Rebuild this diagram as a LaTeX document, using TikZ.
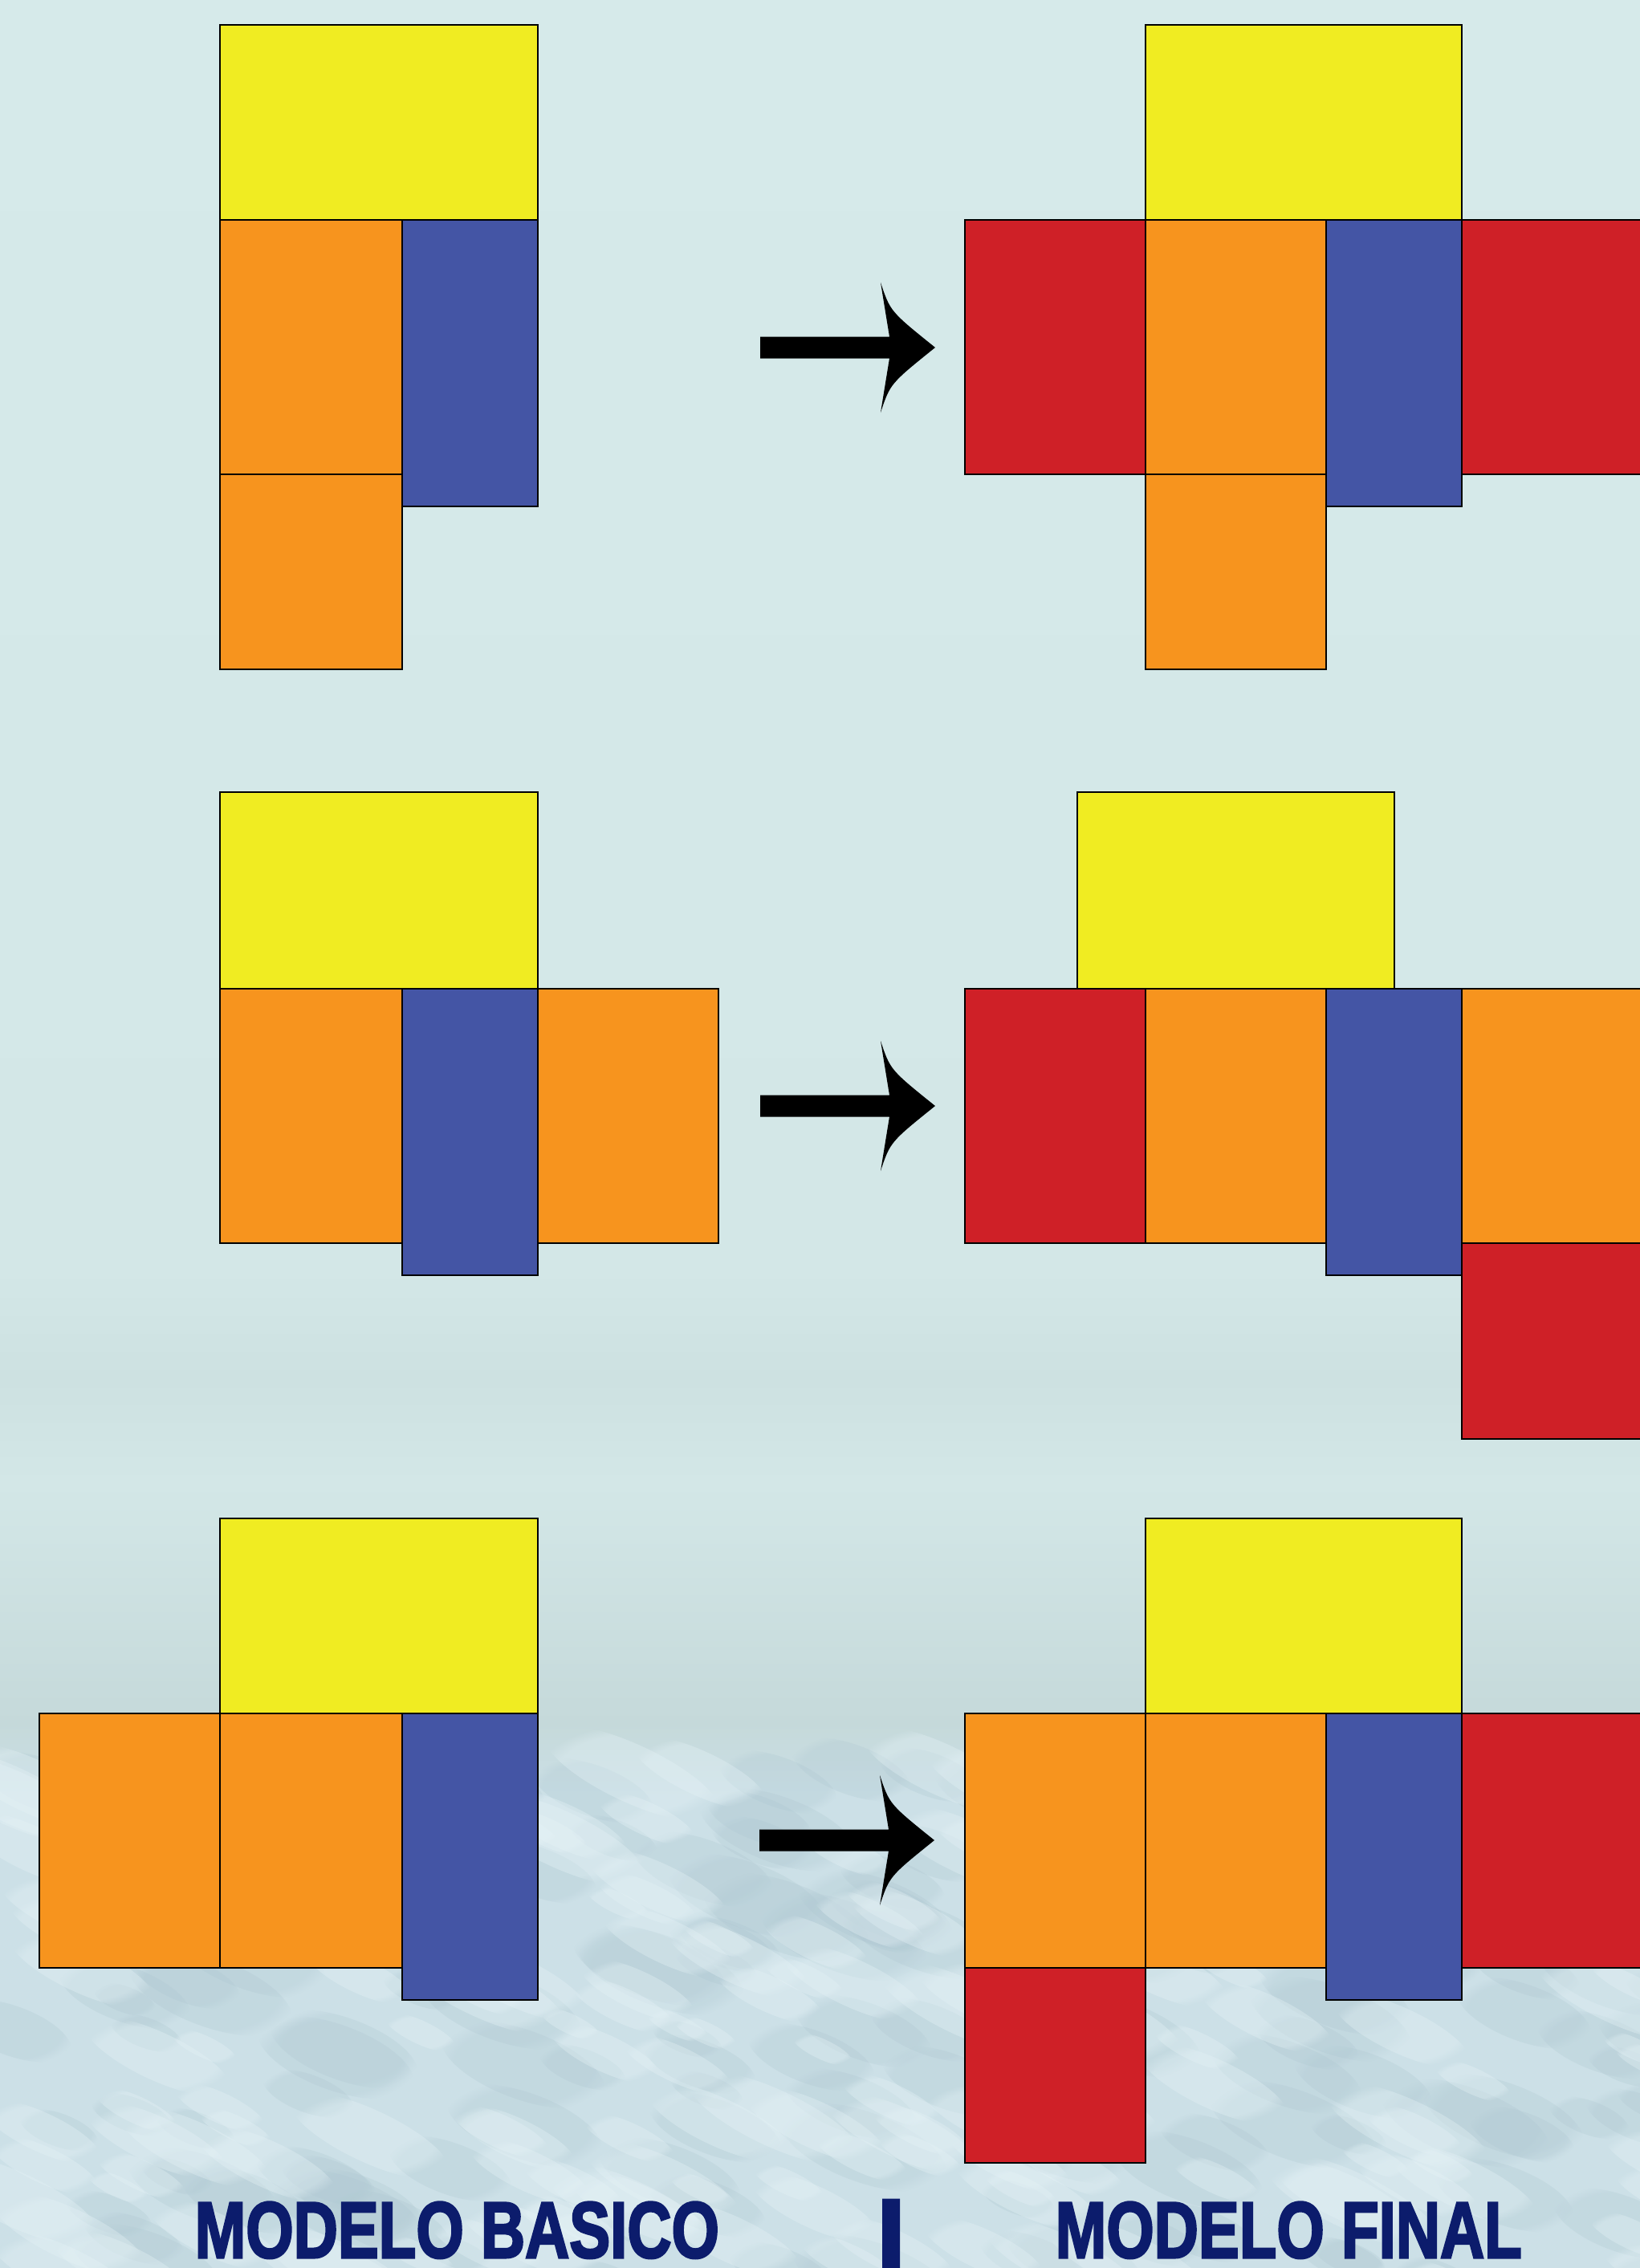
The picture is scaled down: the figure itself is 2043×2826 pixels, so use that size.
\documentclass[tikz,border=0pt]{standalone}
\usepackage{fontspec}
\setmainfont{Liberation Sans}
\newfontfamily\titlefont{Liberation Sans}[BoldFeatures={FakeBold=3}]
\usetikzlibrary{fadings}

\definecolor{tileyellow}{RGB}{240,236,34}
\definecolor{tileorange}{RGB}{247,148,30}
\definecolor{tileblue}{RGB}{68,85,165}
\definecolor{tilered}{RGB}{207,32,39}
\definecolor{titlenavy}{RGB}{12,28,108}
\definecolor{sky}{RGB}{214,234,234}
\definecolor{skylow}{RGB}{211,231,231}
\definecolor{haze}{RGB}{205,225,225}
\definecolor{mist}{RGB}{197,217,218}
\definecolor{sea}{RGB}{204,224,231}
\definecolor{seafoam}{RGB}{230,243,247}
\definecolor{seadark}{RGB}{174,199,209}

\pgfdeclareverticalshading{seaback}{100bp}{color(0bp)=(sea); color(25bp)=(sea);
  color(35.4bp)=(sea); color(37bp)=(mist); color(42.3bp)=(skylow);
  color(44.6bp)=(haze); color(47bp)=(skylow); color(75bp)=(sky); color(100bp)=(sky)}

\tikzset{
  tile/.style={draw=black, line width=0.7pt},
  title/.style={text=titlenavy, inner sep=0pt, font=\titlefont\fontsize{28.2}{30}\selectfont\bfseries},
  blob/.style={path fading=circle with fuzzy edge 20 percent},
  bigarrow/.pic={
    \fill[black] (0,0) .. controls (-56,-45) .. (-68,-81) -- (-57,-13.5)
      -- (-218,-13.5) -- (-218,13.5) -- (-57,13.5) -- (-68,81)
      .. controls (-56,45) .. (0,0) -- cycle;
  }
}

\begin{document}
\begin{tikzpicture}[x=0.01cm, y=-0.01cm]
  \useasboundingbox (0,0) rectangle (2043,2826);
  \clip (0,0) rectangle (2043,2826);
  \shade[shading=seaback] (0,0) rectangle (2043,2826);

  % sea texture
  \pgfmathsetseed{42}
  \foreach \k in {1,...,150}{
    \pgfmathsetmacro\fx{rnd*2100}
    \pgfmathsetmacro\fy{2200+rnd*650}
    \pgfmathsetmacro\fr{40+rnd*70}
    \fill[seadark, opacity=0.28, blob, rotate around={-20:(\fx,\fy)}] (\fx,\fy) ellipse ({\fr} and {\fr*0.4});
  }
  \foreach \k in {1,...,170}{
    \pgfmathsetmacro\fx{rnd*2100}
    \pgfmathsetmacro\fy{2200+rnd*650}
    \pgfmathsetmacro\fr{40+rnd*80}
    \fill[seafoam, opacity=0.35, blob, rotate around={-25:(\fx,\fy)}] (\fx,\fy) ellipse ({\fr} and {\fr*0.3});
  }

  % row 1
  \filldraw[tile, fill=tileyellow] (274,31) rectangle (670,274);
  \filldraw[tile, fill=tileorange] (274,274) rectangle (501,591);
  \filldraw[tile, fill=tileblue] (501,274) rectangle (670,631);
  \filldraw[tile, fill=tileorange] (274,591) rectangle (501,834);

  \filldraw[tile, fill=tileyellow] (1427,31) rectangle (1821,274);
  \filldraw[tile, fill=tilered] (1202,274) rectangle (1427,591);
  \filldraw[tile, fill=tileorange] (1427,274) rectangle (1652,591);
  \filldraw[tile, fill=tileblue] (1652,274) rectangle (1821,631);
  \filldraw[tile, fill=tilered] (1821,274) rectangle (2047,591);
  \filldraw[tile, fill=tileorange] (1427,591) rectangle (1652,834);

  % row 2
  \filldraw[tile, fill=tileyellow] (274,987) rectangle (670,1232);
  \filldraw[tile, fill=tileorange] (274,1232) rectangle (501,1549);
  \filldraw[tile, fill=tileblue] (501,1232) rectangle (670,1589);
  \filldraw[tile, fill=tileorange] (670,1232) rectangle (895,1549);

  \filldraw[tile, fill=tileyellow] (1342,987) rectangle (1737,1232);
  \filldraw[tile, fill=tilered] (1202,1232) rectangle (1427,1549);
  \filldraw[tile, fill=tileorange] (1427,1232) rectangle (1652,1549);
  \filldraw[tile, fill=tileblue] (1652,1232) rectangle (1821,1589);
  \filldraw[tile, fill=tileorange] (1821,1232) rectangle (2047,1549);
  \filldraw[tile, fill=tilered] (1821,1549) rectangle (2047,1793);

  % row 3
  \filldraw[tile, fill=tileyellow] (274,1892) rectangle (670,2135);
  \filldraw[tile, fill=tileorange] (49,2135) rectangle (274,2452);
  \filldraw[tile, fill=tileorange] (274,2135) rectangle (501,2452);
  \filldraw[tile, fill=tileblue] (501,2135) rectangle (670,2492);

  \filldraw[tile, fill=tileyellow] (1427,1892) rectangle (1821,2135);
  \filldraw[tile, fill=tileorange] (1202,2135) rectangle (1427,2452);
  \filldraw[tile, fill=tileorange] (1427,2135) rectangle (1652,2452);
  \filldraw[tile, fill=tileblue] (1652,2135) rectangle (1821,2492);
  \filldraw[tile, fill=tilered] (1821,2135) rectangle (2047,2452);
  \filldraw[tile, fill=tilered] (1202,2452) rectangle (1427,2695);

  \coordinate (tip1) at (1165,433);
  \coordinate (tip2) at (1165,1378);
  \coordinate (tip3) at (1164,2293);
  \pic at (tip1) {bigarrow};
  \pic at (tip2) {bigarrow};
  \pic at (tip3) {bigarrow};

  \node[title, anchor=base west] (basico) at (242,2813) {\scalebox{0.77}[1]{MODELO BASICO}};
  \node[title, anchor=base] (bar) at (1110,2813) {\scalebox{1.4}[1]{|}};
  \node[title, anchor=base west] (final) at (1314,2813) {\scalebox{0.77}[1]{MODELO FINAL}};
\end{tikzpicture}
\end{document}
